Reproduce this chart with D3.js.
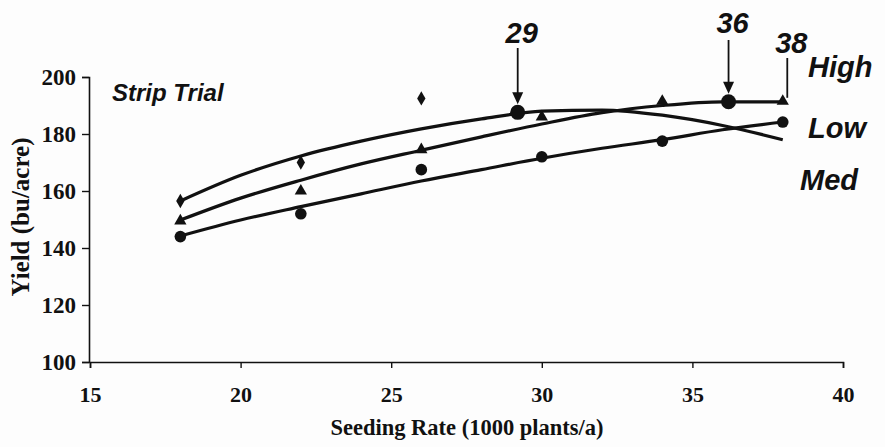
<!DOCTYPE html>
<html>
<head>
<meta charset="utf-8">
<script src="https://cdn.jsdelivr.net/npm/d3@7"></script>
<style>
html,body{margin:0;padding:0;background:#fdfdfd;}
svg{display:block;}
</style>
</head>
<body>
<svg id="chart" width="885" height="447"></svg>
<script>
// ---- data ----
const xTicks = [15, 20, 25, 30, 35, 40];
const yTicks = [100, 120, 140, 160, 180, 200];

const diamondX = [18, 22, 26];
const diamondY = [156.5, 170, 192.5];
const triangleX = [18, 22, 26, 30, 34, 38];
const triangleY = [149.5, 160, 174.5, 186, 191.5, 191.5];
const circleX = [18, 22, 26, 30, 34, 38];
const circleY = [144, 152, 167.5, 172, 177.5, 184.2];

const fitX = [18, 20, 22, 24, 26, 28, 30, 32, 34, 36, 38];
const fitDiamond = [156.5, 165.5, 172.3, 177.5, 181.8, 185.3, 188.0, 188.4, 186.6, 183, 178];
const fitTriangle = [149.8, 157.5, 163.8, 169.5, 174.3, 179, 183.5, 187.5, 190, 191.3, 191.3];
const fitCircle = [144.2, 149.8, 154.5, 159, 163.5, 167.5, 171.5, 175, 178, 181.5, 184.2];

const jointX = [29.2, 36.2];
const jointY = [187.6, 191.3];
const arrowLabels = ["29", "36", "38"];
const arrowX = [29.2, 36.2, 38.15];
const arrowY = [187.6, 191.3, 191.3];
const arrowHead = [true, true, false];

const seriesLabels = ["High", "Low", "Med"];

// ---- drawing ----
const svg = d3.select("#chart");
const x = d3.scaleLinear().domain([15, 40]).range([90, 843]);
const y = d3.scaleLinear().domain([100, 200]).range([362, 77]);

const serif = "'Liberation Serif','Times New Roman',serif";
const sans = "'Liberation Sans',Arial,sans-serif";

// axes
const yAxis = d3.axisLeft(y).tickValues(yTicks).tickSize(7).tickPadding(6).tickFormat(d3.format("d"));
const gy = svg.append("g").attr("transform", "translate(89,0)").call(yAxis);
const xAxis = d3.axisBottom(x).tickValues(xTicks).tickSize(6).tickPadding(18).tickFormat(d3.format("d"));
const gx = svg.append("g").attr("transform", "translate(0,362)").call(xAxis);
[gx, gy].forEach(g => {
  g.select(".domain").attr("stroke", "#111").attr("stroke-width", 1.6);
  g.selectAll(".tick line").attr("stroke", "#111").attr("stroke-width", 1.4);
  g.selectAll(".tick text").attr("fill", "#111")
    .style("font-family", serif).style("font-weight", "bold").style("font-size", "22px");
});
gy.selectAll(".tick text").style("font-size", "23px").attr("dy", "0.34em");

// axis titles
svg.append("text").attr("x", 467).attr("y", 435).attr("text-anchor", "middle")
  .style("font-family", serif).style("font-weight", "bold").style("font-size", "22.5px")
  .attr("fill", "#111").text("Seeding Rate (1000 plants/a)");
svg.append("text").attr("transform", "translate(29,217) rotate(-90)").attr("text-anchor", "middle")
  .style("font-family", serif).style("font-weight", "bold").style("font-size", "25px")
  .attr("fill", "#111").text("Yield (bu/acre)");

// strip trial
svg.append("text").attr("x", 112).attr("y", 101)
  .style("font-family", sans).style("font-weight", "bold").style("font-style", "italic").style("font-size", "24px")
  .attr("fill", "#111").text("Strip Trial");

// fitted lines
const line = d3.line().x(d => x(d[0])).y(d => y(d[1])).curve(d3.curveMonotoneX);
[fitDiamond, fitTriangle, fitCircle].forEach(arr => {
  svg.append("path").datum(fitX.map((v, i) => [v, arr[i]]))
    .attr("d", line).attr("fill", "none").attr("stroke", "#111").attr("stroke-width", 3.2);
});

// markers
svg.append("g").selectAll("path").data(diamondX.map((v, i) => [v, diamondY[i]])).join("path")
  .attr("d", d3.symbol(d3.symbolDiamond, 60))
  .attr("transform", d => `translate(${x(d[0])},${y(d[1])})`).attr("fill", "#111");
svg.append("g").selectAll("path").data(triangleX.map((v, i) => [v, triangleY[i]])).join("path")
  .attr("d", d3.symbol(d3.symbolTriangle, 65))
  .attr("transform", d => `translate(${x(d[0])},${y(d[1])})`).attr("fill", "#111");
svg.append("g").selectAll("circle").data(circleX.map((v, i) => [v, circleY[i]])).join("circle")
  .attr("cx", d => x(d[0])).attr("cy", d => y(d[1])).attr("r", 5.8).attr("fill", "#111");
svg.append("g").selectAll("circle").data(jointX.map((v, i) => [v, jointY[i]])).join("circle")
  .attr("cx", d => x(d[0])).attr("cy", d => y(d[1])).attr("r", 7.5).attr("fill", "#111");

// arrows and labels
const labelBase = [43, 33, 53];
const arrowTop = [48, 40, 58];
arrowLabels.forEach((lab, i) => {
  const ax = x(arrowX[i]);
  const tipY = y(arrowY[i]) - (arrowHead[i] ? 8 : 4);
  svg.append("line").attr("x1", ax).attr("x2", ax).attr("y1", arrowTop[i]).attr("y2", arrowHead[i] ? tipY - 10 : tipY)
    .attr("stroke", "#111").attr("stroke-width", 1.8);
  if (arrowHead[i]) {
    svg.append("path").attr("d", `M${ax - 5.5},${tipY - 12}L${ax + 5.5},${tipY - 12}L${ax},${tipY}Z`).attr("fill", "#111");
  }
  svg.append("text").attr("x", ax + 4).attr("y", labelBase[i])
    .attr("text-anchor", "middle")
    .style("font-family", sans).style("font-weight", "bold").style("font-style", "italic").style("font-size", "29px")
    .attr("fill", "#111").text(lab);
});

// series labels
const labX = [808, 808, 800];
const labY = [77, 138, 190];
seriesLabels.forEach((s, i) => {
  svg.append("text").attr("x", labX[i]).attr("y", labY[i])
    .style("font-family", sans).style("font-weight", "bold").style("font-style", "italic").style("font-size", "29px")
    .attr("fill", "#111").text(s);
});
</script>
</body>
</html>
